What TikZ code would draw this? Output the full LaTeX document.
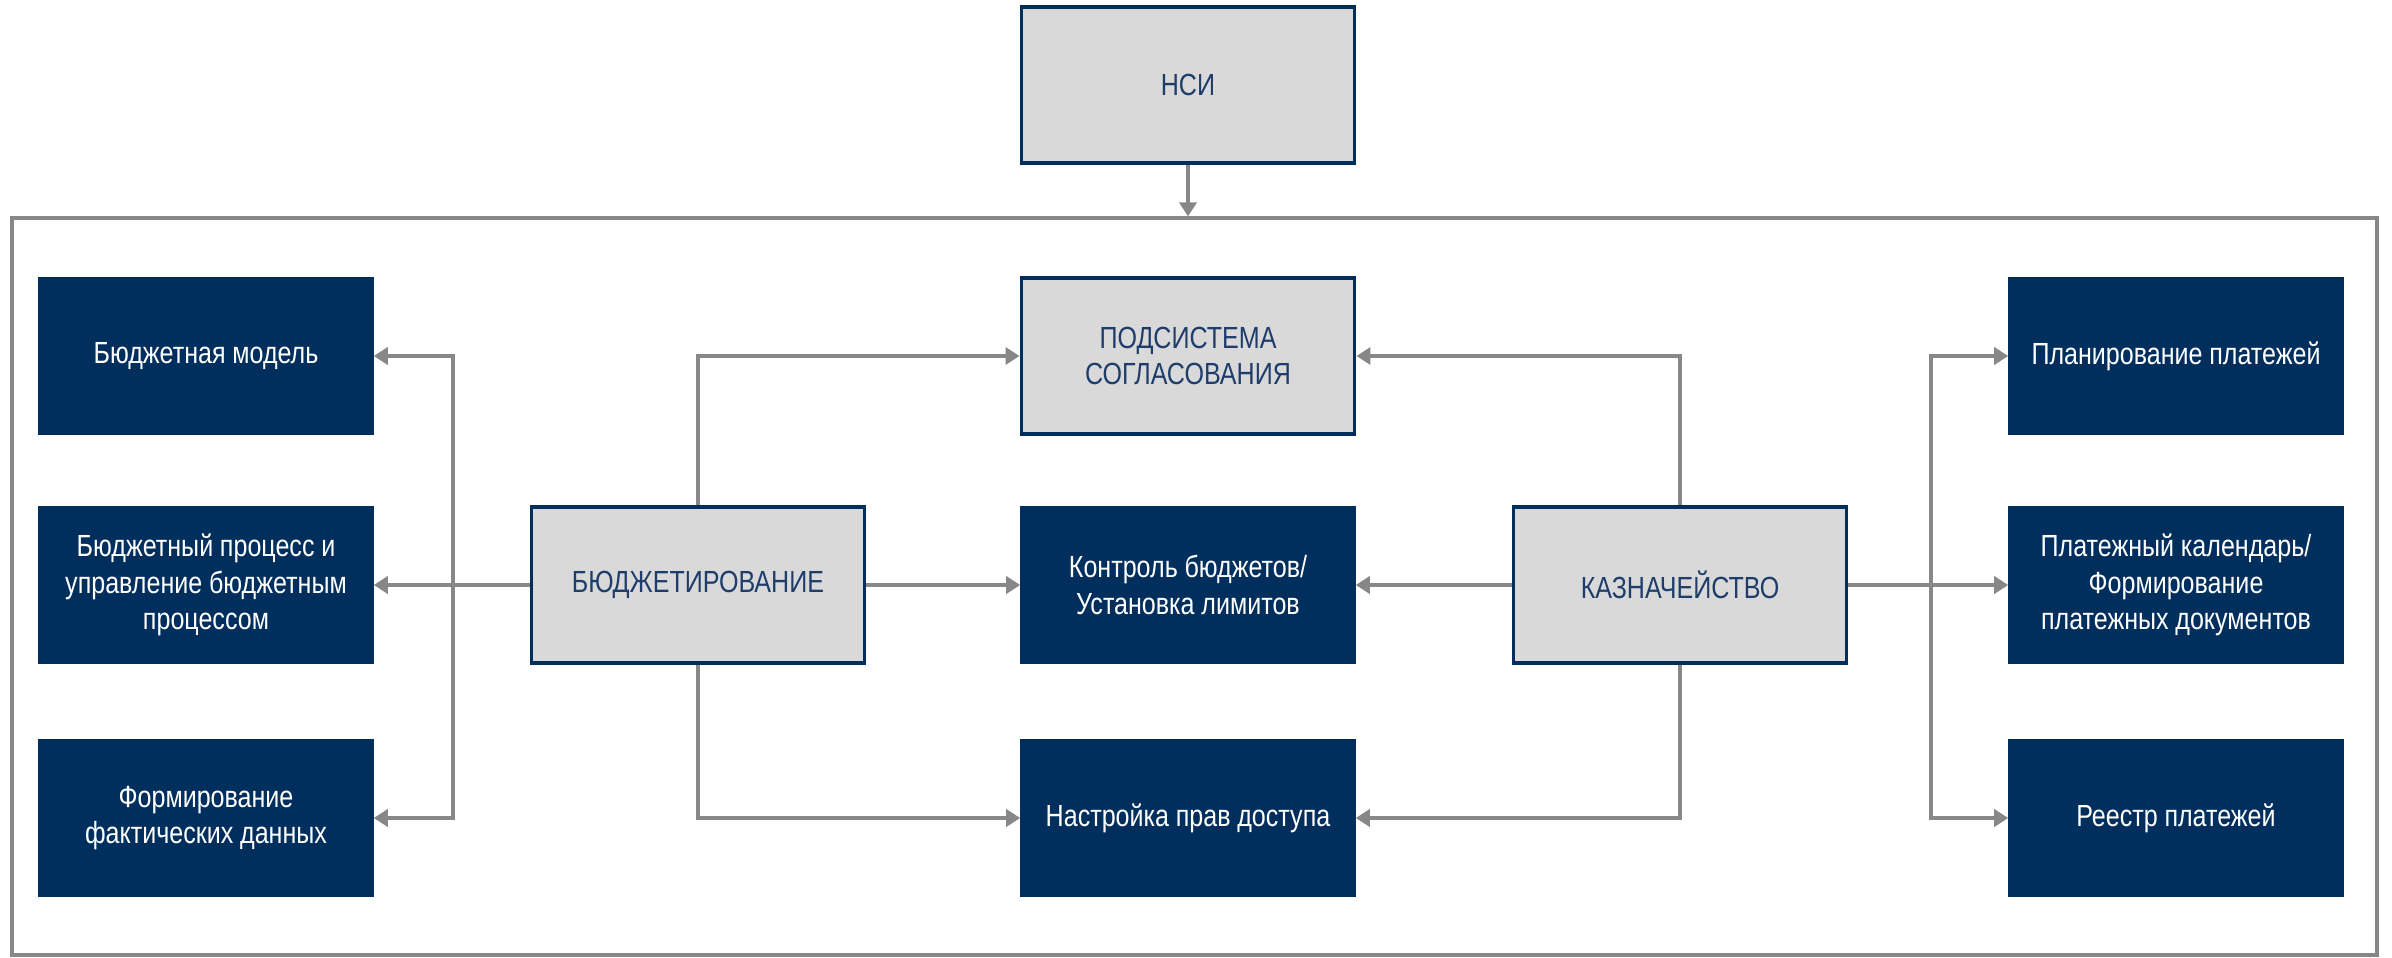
\documentclass[tikz,border=0pt]{standalone}
\usepackage{fontspec}
\setmainfont[FakeStretch=0.82]{Liberation Sans}
\usepackage{tikz}
\usetikzlibrary{arrows.meta, calc}
\definecolor{navy}{RGB}{0,47,94}
\definecolor{boxgray}{RGB}{217,217,217}
\definecolor{linegray}{RGB}{135,135,135}
\definecolor{labelblue}{RGB}{31,61,107}

\begin{document}
\begin{tikzpicture}[
  darkbox/.style={draw=navy, fill=navy, text=white, minimum width=3.31cm,
                  minimum height=1.56cm, text width=3.1cm, align=center,
                  font=\fontsize{8.7}{10.4}\selectfont, line width=0.6pt,
                  execute at begin node={\spaceskip=0.22em\relax}},
  graybox/.style={darkbox, fill=boxgray, text=labelblue, line width=1pt},
  arrow/.style={-{Triangle[length=1.4mm, width=1.7mm]}, line width=1.1pt, draw=linegray},
  frame/.style={draw=linegray, line width=0.9pt, minimum width=23.65cm,
                minimum height=7.37cm}
]
  \useasboundingbox (0,0) rectangle (23.92,9.57);

  % Nodes
  \node[graybox] (nsi) at (11.88,8.72) {НСИ};
  \node[frame] (frame) at (11.945,3.705) {};

  \node[darkbox] (model) at (2.06,6.01) {Бюджетная модель};
  \node[darkbox] (proc)  at (2.06,3.72) {Бюджетный процесс и\\управление бюджетным\\процессом};
  \node[darkbox] (fact)  at (2.06,1.39) {Формирование\\фактических данных};

  \node[graybox] (budget) at (6.98,3.72) {БЮДЖЕТИРОВАНИЕ};

  \node[graybox] (sogl)   at (11.88,6.01) {ПОДСИСТЕМА\\СОГЛАСОВАНИЯ};
  \node[darkbox] (limits) at (11.88,3.72) {Контроль бюджетов/\\Установка лимитов};
  \node[darkbox] (access) at (11.88,1.39) {Настройка прав доступа};

  \node[graybox] (treas) at (16.80,3.72) {КАЗНАЧЕЙСТВО};

  \node[darkbox] (plan)     at (21.76,6.01) {Планирование платежей};
  \node[darkbox] (calendar) at (21.76,3.72) {Платежный календарь/\\Формирование\\платежных документов};
  \node[darkbox] (registry) at (21.76,1.39) {Реестр платежей};

  \coordinate (ltrunk) at (4.53,3.72);
  \coordinate (rtrunk) at (19.31,3.72);

  % Arrows
  \draw[arrow] (nsi.south) -- (nsi.south |- frame.north);

  \draw[arrow] (budget.west) -- (proc.east);
  \draw[arrow] (ltrunk) |- (model.east);
  \draw[arrow] (ltrunk) |- (fact.east);
  \draw[arrow] (budget.north) |- (sogl.west);
  \draw[arrow] (budget.east) -- (limits.west);
  \draw[arrow] (budget.south) |- (access.west);

  \draw[arrow] (treas.north) |- (sogl.east);
  \draw[arrow] (treas.west) -- (limits.east);
  \draw[arrow] (treas.south) |- (access.east);
  \draw[arrow] (treas.east) -- (calendar.west);
  \draw[arrow] (rtrunk) |- (plan.west);
  \draw[arrow] (rtrunk) |- (registry.west);
\end{tikzpicture}
\end{document}
